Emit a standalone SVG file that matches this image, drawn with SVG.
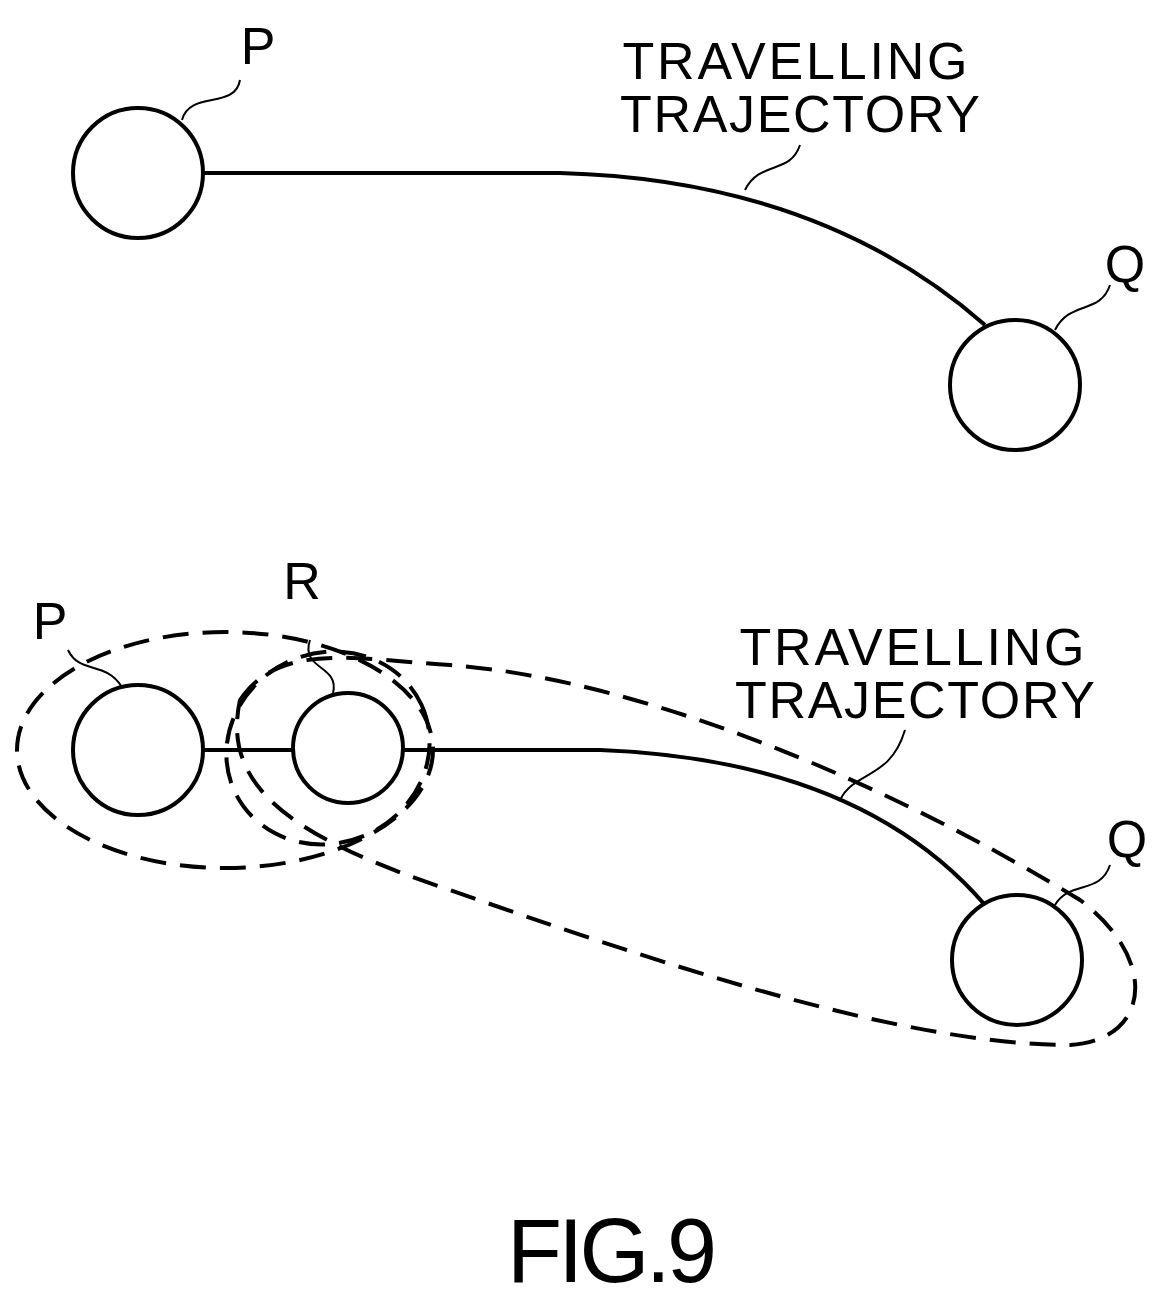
<svg xmlns="http://www.w3.org/2000/svg" width="1169" height="1308" viewBox="0 0 1169 1308">
<style>
.n{fill:none;stroke:#000;stroke-width:4}
.l{fill:none;stroke:#000;stroke-width:2}
.d{fill:none;stroke:#000;stroke-width:4;stroke-dasharray:26 14}
text{font-family:"Liberation Sans",Arial,sans-serif;font-size:52px;fill:#000;text-anchor:middle}
</style>
<rect width="1169" height="1308" fill="#fff"/>
<g id="connectors">
<path class="n" d="M203,173 L560,173 Q820,180 985,325"/>
<path class="n" d="M203,750 L293,750 M403,750 L600,750 Q860,760 985,905"/>
<path class="l" d="M182,120 C190,90 235,110 240,80"/>
<path class="l" d="M745,190 C760,160 790,175 800,145"/>
<path class="l" d="M1055,330 C1070,300 1100,315 1110,285"/>
<path class="l" d="M122,687 C105,660 80,675 68,650"/>
<path class="l" d="M333,693 C340,665 300,670 310,640"/>
<path class="l" d="M840,800 C855,770 890,780 905,730"/>
<path class="l" d="M1055,905 C1070,880 1100,895 1110,865"/>
</g>
<g id="P1"><circle class="n" cx="138" cy="173" r="65"/><text x="258" y="64">P</text></g>
<g id="Q1"><circle class="n" cx="1015" cy="385" r="65"/><text x="1125" y="282">Q</text></g>
<g id="label1"><text x="795" y="79" textLength="345">TRAVELLING</text><text x="800" y="132" textLength="360">TRAJECTORY</text></g>
<g id="P2"><circle class="n" cx="138" cy="750" r="65"/><text x="50" y="639">P</text></g>
<g id="R"><circle class="n" cx="348" cy="748" r="55"/><text x="302" y="599">R</text></g>
<g id="Q2"><circle class="n" cx="1017" cy="960" r="65"/><text x="1127" y="857">Q</text></g>
<g id="label2"><text x="912" y="665" textLength="345">TRAVELLING</text><text x="915" y="718" textLength="360">TRAJECTORY</text></g>
<g id="groups">
<ellipse class="d" cx="225" cy="750" rx="208" ry="118"/>
<ellipse class="d" cx="328" cy="748" rx="103" ry="95" transform="rotate(-25 328 748)"/>
<path class="d" d="M240,700 C280,640 360,660 450,665 C650,680 900,790 1080,900 C1160,960 1150,1040 1070,1045 C900,1045 650,960 450,890 C300,840 220,790 240,700 Z"/>
</g>
<text x="612" y="1282" style="font-size:90px" textLength="210">FIG.9</text>
</svg>
